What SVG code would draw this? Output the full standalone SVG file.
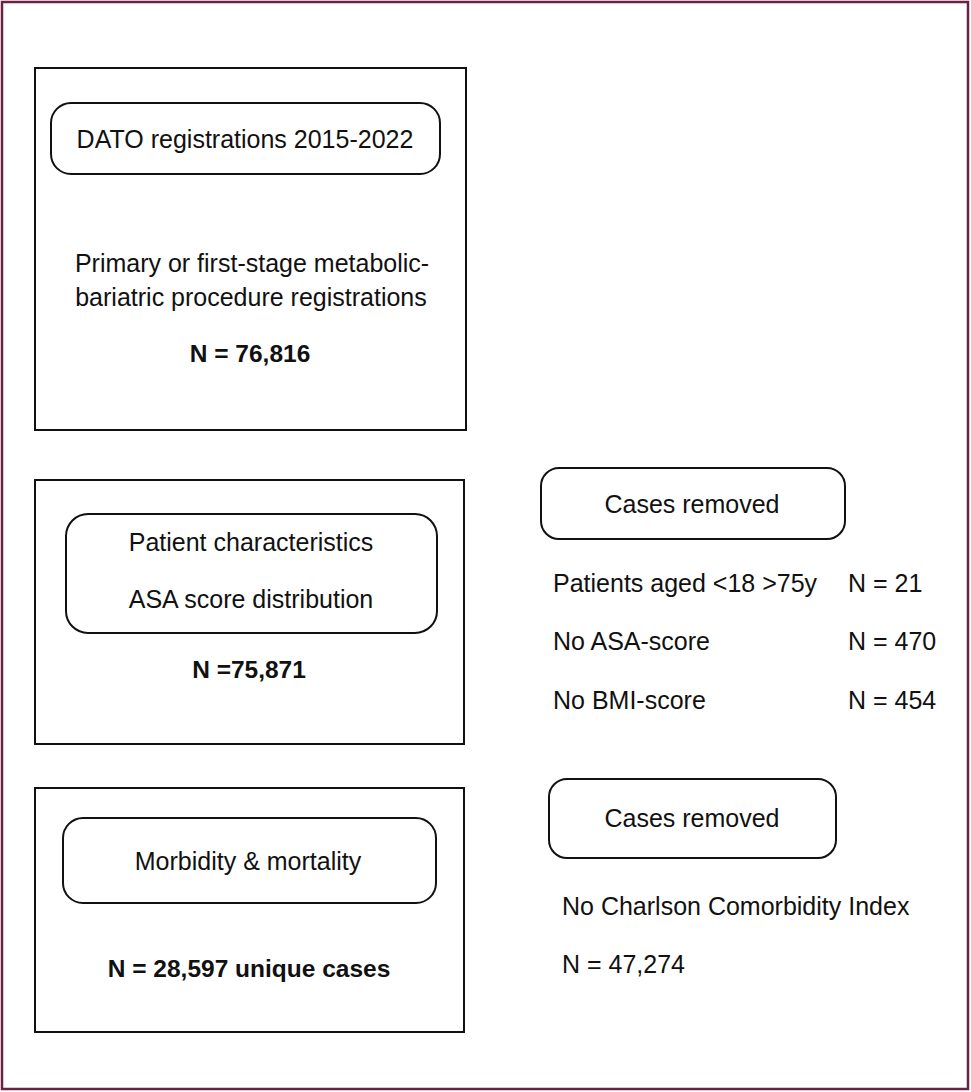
<svg xmlns="http://www.w3.org/2000/svg" width="971" height="1092" viewBox="0 0 971 1092">
<style>
.frame{fill:#fff;stroke:#6b2242;stroke-width:2.5}
.box{fill:none;stroke:#111;stroke-width:2}
.rbox{fill:#fff;stroke:#111;stroke-width:2}
text{font-family:"Liberation Sans",Arial,sans-serif;font-size:25px;fill:#111}
.c{text-anchor:middle}
.b{font-weight:bold;font-size:24.5px}
</style>
<rect class="frame" x="2" y="2" width="966" height="1087"/>
<g id="connectors"/>
<g id="node-dato">
<rect class="box" x="35" y="68" width="431" height="362"/>
<rect class="rbox" x="51" y="103" width="389" height="71" rx="20"/>
<text class="c" x="245" y="148">DATO registrations 2015-2022</text>
<text class="c" x="252" y="272">Primary or first-stage metabolic-</text>
<text class="c" x="251" y="306">bariatric procedure registrations</text>
<text class="c b" x="250" y="362">N = 76,816</text>
</g>
<g id="node-patient">
<rect class="box" x="35" y="480" width="429" height="264"/>
<rect class="rbox" x="66" y="514" width="371" height="119" rx="22"/>
<text class="c" x="251" y="551">Patient characteristics</text>
<text class="c" x="251" y="608">ASA score distribution</text>
<text class="c b" x="249" y="678">N =75,871</text>
</g>
<g id="node-removed1">
<rect class="rbox" x="541" y="468" width="304" height="71" rx="18"/>
<text class="c" x="692" y="513">Cases removed</text>
<text x="553" y="592">Patients aged &lt;18 &gt;75y</text>
<text x="848" y="592">N = 21</text>
<text x="553" y="650">No ASA-score</text>
<text x="848" y="650">N = 470</text>
<text x="553" y="709">No BMI-score</text>
<text x="848" y="709">N = 454</text>
</g>
<g id="node-morbidity">
<rect class="box" x="35" y="788" width="429" height="244"/>
<rect class="rbox" x="63" y="818" width="373" height="85" rx="20"/>
<text class="c" x="248" y="870">Morbidity &amp; mortality</text>
<text class="c b" x="249" y="977">N = 28,597 unique cases</text>
</g>
<g id="node-removed2">
<rect class="rbox" x="549" y="779" width="287" height="79" rx="18"/>
<text class="c" x="692" y="827">Cases removed</text>
<text x="562" y="915">No Charlson Comorbidity Index</text>
<text x="562" y="973">N = 47,274</text>
</g>
</svg>
